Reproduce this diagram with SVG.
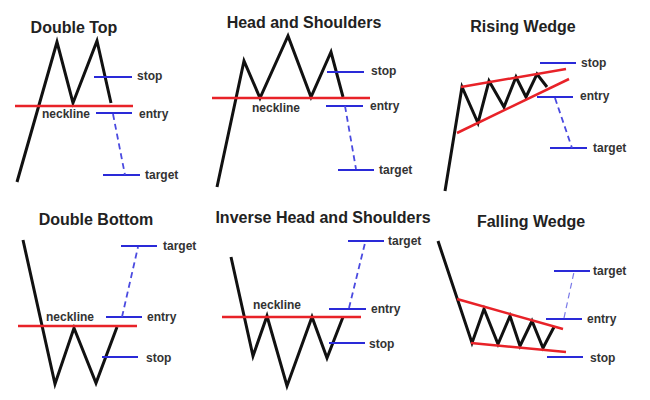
<svg xmlns="http://www.w3.org/2000/svg" width="650" height="400" viewBox="0 0 650 400">
<style>
.bg{fill:#ffffff}
.title{font-family:"Liberation Sans",Arial,sans-serif;font-weight:bold;font-size:16px;fill:#222}
.lbl{font-family:"Liberation Sans",Arial,sans-serif;font-weight:bold;font-size:12px;fill:#333}
.price{fill:none;stroke:#111;stroke-width:3;stroke-linejoin:miter;stroke-linecap:butt}
.neck{stroke:#e82228;stroke-width:2.5;fill:none}
.lvl{stroke:#2a2ad8;stroke-width:2}
.dash{stroke:#4a4ae0;stroke-width:1.8;stroke-dasharray:6 4}
.dash2{stroke:#7a7ae8;stroke-width:1.2;stroke-dasharray:6 4}
</style>
<rect class="bg" x="0" y="0" width="650" height="400"/>

<g id="double-top">
<text class="title" x="74" y="33" text-anchor="middle">Double Top</text>
<polyline class="price" points="17,182 57,42 73,103 97,41 111,103"/>
<line class="neck" x1="15" y1="106" x2="133" y2="106"/>
<text class="lbl" x="42" y="118">neckline</text>
<line class="lvl" x1="94" y1="77" x2="132" y2="77"/>
<text class="lbl" x="137" y="80">stop</text>
<line class="lvl" x1="96" y1="113" x2="132" y2="113"/>
<text class="lbl" x="139" y="118">entry</text>
<line class="lvl" x1="103" y1="175" x2="140" y2="175"/>
<text class="lbl" x="145" y="179">target</text>
<line class="dash" x1="113" y1="114" x2="125" y2="175"/>
</g>

<g id="head-and-shoulders">
<text class="title" x="304" y="28" text-anchor="middle">Head and Shoulders</text>
<polyline class="price" points="217,187 244,61 260,98 288,36 311,97 331,52 343,97"/>
<line class="neck" x1="212" y1="98" x2="370" y2="98"/>
<text class="lbl" x="252" y="112">neckline</text>
<line class="lvl" x1="327" y1="72" x2="364" y2="72"/>
<text class="lbl" x="371" y="75">stop</text>
<line class="lvl" x1="326" y1="106" x2="363" y2="106"/>
<text class="lbl" x="370" y="110">entry</text>
<line class="lvl" x1="338" y1="170" x2="374" y2="170"/>
<text class="lbl" x="379" y="174">target</text>
<line class="dash" x1="345" y1="106" x2="356" y2="169"/>
</g>

<g id="rising-wedge">
<text class="title" x="523" y="32" text-anchor="middle">Rising Wedge</text>
<polyline class="price" points="445,191 462,87 478,123 489,81 504,107 516,77 526,97 537,74 547,87"/>
<line class="neck" x1="461" y1="87" x2="566" y2="69"/>
<line class="neck" x1="457" y1="133" x2="569" y2="79"/>
<line class="lvl" x1="540" y1="63" x2="576" y2="63"/>
<text class="lbl" x="581" y="67">stop</text>
<line class="lvl" x1="537" y1="97" x2="573" y2="97"/>
<text class="lbl" x="580" y="100">entry</text>
<line class="lvl" x1="550" y1="148" x2="587" y2="148"/>
<text class="lbl" x="593" y="152">target</text>
<line class="dash" x1="555" y1="98" x2="572" y2="148"/>
</g>

<g id="double-bottom">
<text class="title" x="96" y="225" text-anchor="middle">Double Bottom</text>
<polyline class="price" points="23,240 55,384 74,328 96,383 117,327"/>
<line class="neck" x1="18" y1="326" x2="137" y2="326"/>
<text class="lbl" x="46" y="321">neckline</text>
<line class="lvl" x1="121" y1="246" x2="157" y2="246"/>
<text class="lbl" x="163" y="250">target</text>
<line class="lvl" x1="106" y1="317" x2="142" y2="317"/>
<text class="lbl" x="147" y="321">entry</text>
<line class="lvl" x1="102" y1="357" x2="138" y2="357"/>
<text class="lbl" x="146" y="362">stop</text>
<line class="dash" x1="122" y1="317" x2="138" y2="247"/>
</g>

<g id="inverse-head-and-shoulders">
<text class="title" x="323" y="223" text-anchor="middle">Inverse Head and Shoulders</text>
<polyline class="price" points="231,257 253,356 267,316 287,386 312,317 327,358 343,317"/>
<line class="neck" x1="222" y1="317" x2="361" y2="317"/>
<text class="lbl" x="253" y="309">neckline</text>
<line class="lvl" x1="348" y1="241" x2="384" y2="241"/>
<text class="lbl" x="388" y="245">target</text>
<line class="lvl" x1="329" y1="309" x2="366" y2="309"/>
<text class="lbl" x="371" y="313">entry</text>
<line class="lvl" x1="329" y1="343" x2="365" y2="343"/>
<text class="lbl" x="369" y="348">stop</text>
<line class="dash" x1="349" y1="308" x2="365" y2="243"/>
</g>

<g id="falling-wedge">
<text class="title" x="531" y="227" text-anchor="middle">Falling Wedge</text>
<polyline class="price" points="438,241 472,343 484,309 498,344 510,316 520,346 532,321 543,348 554,327"/>
<line class="neck" x1="457" y1="299" x2="563" y2="329"/>
<line class="neck" x1="471" y1="343" x2="566" y2="352"/>
<line class="lvl" x1="554" y1="271" x2="590" y2="271"/>
<text class="lbl" x="593" y="275">target</text>
<line class="lvl" x1="546" y1="319" x2="582" y2="319"/>
<text class="lbl" x="587" y="323">entry</text>
<line class="lvl" x1="547" y1="357" x2="583" y2="357"/>
<text class="lbl" x="590" y="362">stop</text>
<line class="dash2" x1="564" y1="318" x2="574" y2="272"/>
</g>
</svg>
